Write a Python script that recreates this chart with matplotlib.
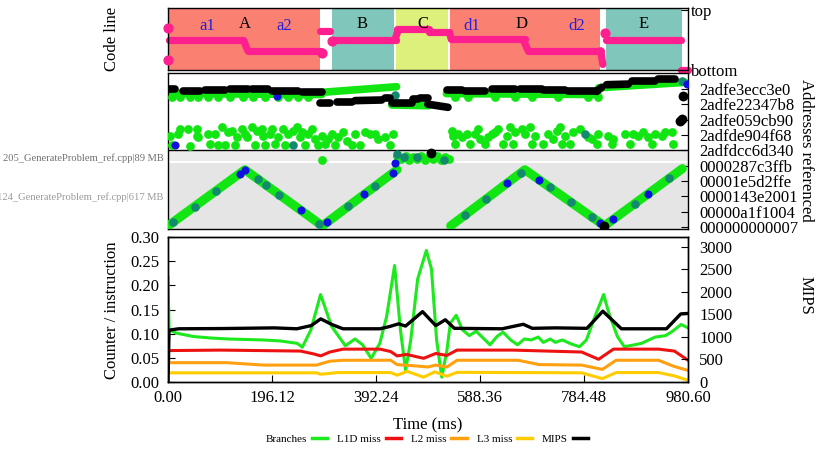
import matplotlib
matplotlib.use('Agg')
import matplotlib.pyplot as plt
from matplotlib.lines import Line2D

plt.rcParams['font.family'] = ['Liberation Serif', 'DejaVu Serif']

# ---------------- data ----------------
T_MAX = 980.6
x_ticks = [0.0, 196.12, 392.24, 588.36, 784.48, 980.60]

# code-line panel: regions (start ms, end ms, colour) and labels
region_start = [0.0, 309.3, 430.0, 531.8, 826.0]
region_end = [286.6, 426.2, 528.0, 814.7, 969.3]
region_color = ['#fa8072', '#80c6bb', '#dcf07b', '#fa8072', '#80c6bb']
label_text = ['a1', 'A', 'a2', 'B', 'C', 'd1', 'D', 'd2', 'E']
label_t = [73.5, 145, 220, 366, 481, 573, 667, 771, 896]
label_level = [0.71, 0.75, 0.71, 0.75, 0.75, 0.71, 0.75, 0.71, 0.75]
label_color = ['#2222dd', 'black', '#2222dd', 'black', 'black', '#2222dd', 'black', '#2222dd', 'black']

# code line segments: t0, t1, level0, level1
code_t0 = [1, 143, 150, 287, 309, 428, 432, 492, 531, 534, 670, 678, 816, 826, 968]
code_t1 = [141, 150, 289, 306, 430, 434, 492, 529, 534, 674, 678, 816, 820, 967, 981]
code_l0 = [0.489, 0.47, 0.311, 0.634, 0.477, 0.49, 0.656, 0.606, 0.60, 0.505, 0.49, 0.311, 0.311, 0.489, 0.005]
code_l1 = [0.489, 0.32, 0.311, 0.634, 0.477, 0.64, 0.656, 0.606, 0.50, 0.505, 0.33, 0.311, 0.089, 0.489, 0.005]
code_dot_t = [0, 0, 290, 310, 825]
code_dot_l = [0.673, 0.155, 0.28, 0.46, 0.589]

# address panel
addr_labels = ['2adfe3ecc3e0', '2adfe22347b8', '2adfe059cb90', '2adfde904f68', '2adfdcc6d340',
               '0000287c3ffb', '00001e5d2ffe', '0000143e2001', '00000a1f1004', '000000000007']
addr_pos = [0.897, 0.799, 0.701, 0.603, 0.504, 0.406, 0.308, 0.210, 0.111, 0.013]
file_labels = ['205_GenerateProblem_ref.cpp|89 MB', '124_GenerateProblem_ref.cpp|617 MB']

# black address bands (t0, t1, f0, f1)
blk_t0 = [0, 29, 69.8, 117, 157.8, 195.5, 252, 286.6, 318, 352.6, 409.2, 421.8, 462.7, 475, 490,
          525.5, 560, 610.3, 663.8, 707.8, 754.9, 808.3, 827.2, 874.3, 924.6]
blk_t1 = [13.2, 60.3, 107.5, 151.5, 189.2, 245.8, 289.8, 305.5, 346.4, 403, 418.6, 459.5, 472, 491, 528,
          553.7, 597.7, 654.3, 704.6, 748.6, 808.3, 817.8, 868, 918.3, 956]
blk_f0 = [0.897, 0.882, 0.891, 0.897, 0.895, 0.887, 0.876, 0.808, 0.812, 0.823, 0.838, 0.806, 0.833, 0.838, 0.80,
          0.891, 0.887, 0.895, 0.897, 0.891, 0.882, 0.882, 0.925, 0.947, 0.962]
blk_f1 = [0.897, 0.882, 0.891, 0.897, 0.895, 0.887, 0.876, 0.808, 0.812, 0.827, 0.838, 0.806, 0.833, 0.838, 0.78,
          0.891, 0.887, 0.895, 0.897, 0.891, 0.882, 0.908, 0.929, 0.947, 0.962]
blk_dot_t = [971.8, 968.6, 966, 496, 823]
blk_dot_f = [0.855, 0.705, 0.69, 0.49, 0.02]

# green address bands
grn_t0 = [0, 290, 422, 525, 812]
grn_t1 = [290, 431, 491, 810, 975]
grn_f0 = [0.868, 0.876, 0.795, 0.868, 0.905]
grn_f1 = [0.862, 0.912, 0.79, 0.862, 0.94]

grn_dot_t = [6.9, 22.6, 41.5, 57.2, 76, 95, 117, 142, 161, 183, 208, 227, 246, 264.6,
             541, 566, 616.6, 654.3, 685.8, 736, 792.6, 811.5,
             3.8, 6.9, 19.5, 22.6, 38.3, 41.5, 54.1, 54.1, 57.2, 76, 79.2, 88.6, 95, 101.2, 107.5, 113.8,
             120, 126.3, 129.5, 139, 145.2, 148.4, 157.8, 164, 167.2, 176.6, 179.8, 183, 192.4, 195.5,
             201.8, 208, 217.5, 220.6, 227, 236.3, 242.6, 248.9, 252, 258.3, 264.6, 270.9, 277.2, 283.5,
             289.8, 296, 302.3, 308.6, 315, 321.2, 330.6, 337, 346.4, 352.6, 362, 371.5, 381, 390.4,
             396.6, 409.2, 418.6, 425,
             534.9, 538, 541.2, 547.5, 553.7, 563.2, 569.5, 578.9, 585.2, 588.3, 597.7, 604, 610.3,
             616.6, 622.9, 632.3, 638.6, 644.9, 651.2, 654.3, 666.9, 673.2, 682.6, 685.8, 692, 707.8,
             717.2, 726.6, 732.9, 739.2, 742.3, 748.6, 758, 764.3, 776.9, 792.6, 798.9, 808.3, 811.5,
             830.3, 836.6, 839.8, 861.8, 871.2, 877.5, 886.9, 896.3, 905.8, 912.1, 918.3, 930.9, 937.2,
             949.8, 952.9,
             432, 440, 448, 455, 462, 470, 478, 485, 492, 500, 508, 515, 522, 530, 291]
grn_dot_f = [0.844] * 14 + [0.844] * 8 + [
             0.598, 0.541, 0.609, 0.641, 0.641, 0.534, 0.641, 0.598, 0.588, 0.609, 0.545, 0.609, 0.541, 0.652,
             0.541, 0.620, 0.630, 0.541, 0.588, 0.641, 0.609, 0.588, 0.652, 0.541, 0.630, 0.641, 0.598, 0.541,
             0.609, 0.641, 0.545, 0.588, 0.641, 0.541, 0.609, 0.630, 0.652, 0.588, 0.620, 0.541, 0.609, 0.641,
             0.577, 0.541, 0.598, 0.545, 0.577, 0.609, 0.541, 0.588, 0.620, 0.566, 0.541, 0.609, 0.541, 0.620,
             0.609, 0.609, 0.577, 0.588, 0.541, 0.609,
             0.630, 0.598, 0.545, 0.609, 0.588, 0.609, 0.545, 0.609, 0.641, 0.577, 0.545, 0.588, 0.609,
             0.620, 0.641, 0.545, 0.598, 0.652, 0.545, 0.620, 0.641, 0.609, 0.652, 0.545, 0.598, 0.545,
             0.609, 0.577, 0.630, 0.652, 0.545, 0.598, 0.545, 0.620, 0.641, 0.588, 0.577, 0.545, 0.609,
             0.598, 0.545, 0.577, 0.609, 0.545, 0.609, 0.598, 0.620, 0.588, 0.545, 0.609, 0.598, 0.620,
             0.620, 0.545,
             0.47, 0.45, 0.47, 0.44, 0.46, 0.45, 0.47, 0.44, 0.46, 0.45, 0.47, 0.44, 0.46, 0.45, 0.44]

# triangle (stack) traces
tri1_t = [0, 145, 291, 432]
tri1_f = [0.02, 0.38, 0.02, 0.38]
tri2_t = [533, 673, 823, 970]
tri2_f = [0.02, 0.38, 0.02, 0.387]

teal_t = [10, 90, 170, 210, 285, 340, 390, 600, 665, 720, 800, 880, 945, 236.3, 428, 786.3, 968.6, 432, 445, 470, 520,
          50, 185, 560, 760]
teal_f = [0.045, 0.243, 0.318, 0.22, 0.035, 0.145, 0.273, 0.192, 0.359, 0.267, 0.075, 0.162, 0.325,
          0.541, 0.86, 0.609, 0.95, 0.48, 0.46, 0.46, 0.44, 0.144, 0.281, 0.089, 0.171]
blue_t = [135, 145, 250, 300, 370, 425, 640, 700, 815, 840, 905, 13.2, 205, 428, 979]
blue_f = [0.355, 0.38, 0.121, 0.043, 0.222, 0.362, 0.295, 0.315, 0.039,
          0.062, 0.225, 0.541, 0.855, 0.42, 0.93]

# counters
br_t = [0, 2, 16.2, 48.7, 81.2, 113.6, 178.6, 211, 243.5, 253.3, 269.5, 287.7, 308.5, 334.4, 352.6,
        366.9, 383.1, 399.4, 412.4, 427.3, 438.3, 448.1, 457.8, 470.8, 487.1, 496.8, 506.5, 516.3,
        526, 532.5, 543.5, 555.2, 568.2, 581.2, 594.2, 607.2, 620.2, 631.9, 646.2, 659.1, 672.1,
        685.1, 698.1, 707.8, 720.8, 730.6, 743.6, 759.8, 776, 789, 805.3, 821.5, 831.2, 847.5,
        860.5, 880, 892.9, 918.9, 938.4, 951.4, 967.6, 980.6]
br_v = [0.216, 0.108, 0.101, 0.094, 0.091, 0.089, 0.087, 0.085, 0.080, 0.072, 0.108, 0.181, 0.115,
        0.075, 0.089, 0.077, 0.049, 0.080, 0.136, 0.241, 0.108, 0.024, 0.087, 0.213, 0.272, 0.234,
        0.087, 0.010, 0.066, 0.122, 0.138, 0.108, 0.096, 0.105, 0.091, 0.077, 0.094, 0.103, 0.087,
        0.077, 0.089, 0.087, 0.093, 0.082, 0.089, 0.082, 0.087, 0.079, 0.073, 0.087, 0.136, 0.181,
        0.143, 0.094, 0.073, 0.077, 0.080, 0.093, 0.096, 0.105, 0.119, 0.112]
l1_t = [0, 100, 250, 275, 288, 305, 330, 400, 420, 432, 450, 482, 505, 526, 545, 650, 780, 812, 840, 925, 955, 980.6]
l1_v = [0.065, 0.066, 0.064, 0.058, 0.054, 0.062, 0.068, 0.068, 0.063, 0.054, 0.057, 0.049, 0.059,
        0.055, 0.066, 0.066, 0.062, 0.047, 0.068, 0.068, 0.064, 0.045]
l2_t = [0, 110, 180, 280, 305, 330, 420, 432, 470, 490, 505, 526, 545, 660, 700, 780, 819, 845, 925, 955, 980.6]
l2_v = [0.040, 0.040, 0.035, 0.035, 0.043, 0.045, 0.045, 0.036, 0.033, 0.031, 0.035, 0.031, 0.045,
        0.045, 0.036, 0.035, 0.026, 0.045, 0.045, 0.032, 0.024]
l3_t = [0, 280, 288, 320, 420, 432, 451, 482, 503, 526, 545, 780, 819, 845, 925, 955, 980.6]
l3_v = [0.019, 0.019, 0.016, 0.0195, 0.0195, 0.014, 0.022, 0.010, 0.021, 0.012, 0.020, 0.019,
        0.007, 0.0195, 0.0195, 0.0126, 0.0035]
mips_t = [0, 2, 20, 100, 200, 243, 270, 288, 310, 330, 400, 418, 435, 448, 480, 505, 523, 540, 630,
          670, 687, 730, 790, 820, 855, 940, 967, 980.6]
mips_v = [0, 1150, 1180, 1185, 1200, 1180, 1250, 1400, 1270, 1180, 1180, 1230, 1290, 1240, 1560,
          1250, 1380, 1190, 1180, 1280, 1190, 1200, 1190, 1570, 1180, 1180, 1510, 1520]

series_names = ['Branches', 'L1D miss', 'L2 miss', 'L3 miss', 'MIPS']
series_colors = ['#1ee81e', '#ee1111', '#ffa010', '#ffcc00', 'black']

PINK = '#ff1f8f'
GREEN = '#12e612'
TEAL = '#138a6e'
BLUE = '#1010e0'

# ---------------- figure ----------------
fig = plt.figure(figsize=(8.3, 4.53), dpi=100)


def px_axes(x0, y0, x1, y1):
    return fig.add_axes([x0 / 830, 1 - y1 / 453, (x1 - x0) / 830, (y1 - y0) / 453])


ax_code = px_axes(168, 8, 688, 70)
ax_addr = px_axes(168, 73, 688, 229)
ax_ctr = px_axes(168, 237, 688, 382)

FS = 12

# --- code line panel ---
for t0, t1, c in zip(region_start, region_end, region_color):
    ax_code.axvspan(t0, t1, color=c, lw=0)
for s, t, l, c in zip(label_text, label_t, label_level, label_color):
    ax_code.text(t, l, s, color=c, fontsize=FS, ha='center', va='center')
for t0, t1, l0, l1 in zip(code_t0, code_t1, code_l0, code_l1):
    ax_code.plot([t0, t1], [l0, l1], color=PINK, lw=5.2, solid_capstyle='round', clip_on=False)
ax_code.scatter(code_dot_t, code_dot_l, s=40, color=PINK, clip_on=False, zorder=3)
ax_code.set_xlim(0, T_MAX)
ax_code.set_ylim(0, 1)
ax_code.set_xticks([])
ax_code.yaxis.tick_right()
ax_code.set_yticks([0.0, 0.965])
ax_code.set_yticklabels(['bottom', 'top'])
ax_code.tick_params(axis='y', direction='in', length=5, pad=2, labelsize=FS)

# --- address panel ---
ax_addr.axhspan(0.439, 0.506, color='#ebebeb', lw=0)
ax_addr.axhspan(0.0, 0.42, color='#e5e5e5', lw=0)
ax_addr.axhline(0.506, color='black', lw=1)
for t0, t1, f0, f1 in zip(grn_t0, grn_t1, grn_f0, grn_f1):
    ax_addr.plot([t0, t1], [f0, f1], color=GREEN, lw=5.5, solid_capstyle='round')
ax_addr.scatter(grn_dot_t, grn_dot_f, s=40, color=GREEN, lw=0, zorder=3)
ax_addr.plot(tri1_t, tri1_f, color=GREEN, lw=6.5, solid_capstyle='round', solid_joinstyle='round', zorder=3)
ax_addr.plot(tri2_t, tri2_f, color=GREEN, lw=6.5, solid_capstyle='round', solid_joinstyle='round', zorder=3)
ax_addr.scatter(teal_t, teal_f, s=38, color=TEAL, lw=0, zorder=4)
ax_addr.scatter(blue_t, blue_f, s=34, color=BLUE, lw=0, zorder=4)
for t0, t1, f0, f1 in zip(blk_t0, blk_t1, blk_f0, blk_f1):
    ax_addr.plot([t0, t1], [f0, f1], color='black', lw=5.5, solid_capstyle='round', zorder=5)
ax_addr.scatter(blk_dot_t, blk_dot_f, s=50, color='black', lw=0, zorder=5)
ax_addr.set_xlim(0, T_MAX)
ax_addr.set_ylim(0, 1)
ax_addr.set_xticks([])
ax_addr.yaxis.tick_right()
ax_addr.set_yticks(addr_pos)
ax_addr.set_yticklabels(addr_labels)
ax_addr.tick_params(axis='y', direction='in', length=5, pad=8, labelsize=FS)
ax_addr.text(-0.008, 0.455, file_labels[0], transform=ax_addr.transAxes, ha='right', va='center',
             fontsize=7.6, color='#707070')
ax_addr.text(-0.008, 0.205, file_labels[1], transform=ax_addr.transAxes, ha='right', va='center',
             fontsize=7.6, color='#9a9a9a')

# --- counters panel ---
series_t = [br_t, l1_t, l2_t, l3_t]
series_v = [br_v, l1_v, l2_v, l3_v]
for t, v, c in zip(series_t, series_v, series_colors[:4]):
    ax_ctr.plot(t, v, color=c, lw=2.2)
ax_ctr.set_xlim(0, T_MAX)
ax_ctr.set_ylim(0, 0.30)
ax_ctr.set_yticks([0.0, 0.05, 0.10, 0.15, 0.20, 0.25, 0.30])
ax_ctr.set_yticklabels(['%.2f' % v for v in [0.0, 0.05, 0.10, 0.15, 0.20, 0.25, 0.30]])
ax_ctr.set_xticks(x_ticks)
ax_ctr.set_xticklabels(['%.2f' % v for v in x_ticks])
ax_ctr.tick_params(direction='in', length=5, labelsize=FS)
ax_ctr.tick_params(axis='y', pad=6)
ax_ctr.tick_params(axis='x', pad=6)

ax_m = ax_ctr.twinx()
ax_m.plot(mips_t, mips_v, color='black', lw=2.4)
ax_m.set_ylim(0, 3215)
ax_m.set_yticks([0, 500, 1000, 1500, 2000, 2500, 3000])
ax_m.tick_params(direction='in', length=5, labelsize=FS, pad=8)

for ax in (ax_code, ax_addr, ax_ctr, ax_m):
    for sp in ax.spines.values():
        sp.set_linewidth(1.0)

# --- labels ---
fig.text(112 / 830, 1 - 39 / 453, 'Code line', rotation=90, ha='center', va='center', fontsize=FS)
fig.text(112 / 830, 1 - 310 / 453, 'Counter / instruction', rotation=90, ha='center', va='center', fontsize=FS)
fig.text(806 / 830, 1 - 150 / 453, 'Addresses referenced', rotation=270, ha='center', va='center', fontsize=FS)
fig.text(806 / 830, 1 - 295 / 453, 'MIPS', rotation=270, ha='center', va='center', fontsize=FS)
fig.text(428 / 830, 1 - 425 / 453, 'Time (ms)', ha='center', va='center', fontsize=FS)

handles = [Line2D([], [], color=c, lw=2.5) for c in series_colors]
fig.legend(handles, series_names, loc='center', bbox_to_anchor=(427 / 830, 1 - 439 / 453), ncol=5,
           frameon=False, markerfirst=False, fontsize=8, handlelength=1.4, handletextpad=0.4,
           columnspacing=0.9)

fig.savefig('out.png', dpi=100)
